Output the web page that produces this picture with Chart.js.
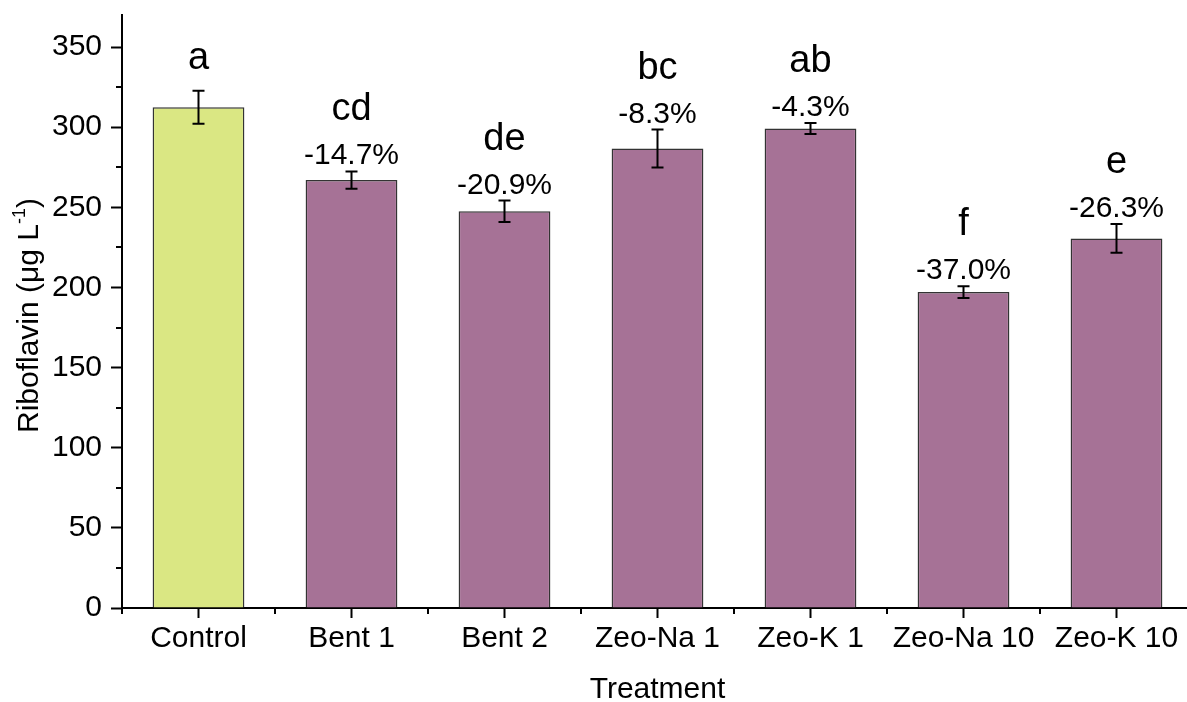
<!DOCTYPE html>
<html>
<head>
<meta charset="utf-8">
<script src="https://cdn.jsdelivr.net/npm/chart.js@4"></script>
<style>
  html, body { margin: 0; padding: 0; overflow: hidden; background: #fff; }
  canvas { display: block; }
</style>
</head>
<body>
<canvas id="riboChart" width="1200" height="708"></canvas>
<script>
// Riboflavin per treatment
const categories = ['Control', 'Bent 1', 'Bent 2', 'Zeo-Na 1', 'Zeo-K 1', 'Zeo-Na 10', 'Zeo-K 10'];
const riboflavin = [312.5, 267, 247.5, 286.7, 299.2, 197.1, 230.6];
const errors = [10.3, 5.4, 6.7, 11.8, 3.4, 3.6, 9.0];
const letters = ['a', 'cd', 'de', 'bc', 'ab', 'f', 'e'];
const changes = ['', '-14.7%', '-20.9%', '-8.3%', '-4.3%', '-37.0%', '-26.3%'];
const yTicks = [0, 50, 100, 150, 200, 250, 300, 350];

const FONT = "'Liberation Sans', Arial, sans-serif";
const barColors = categories.map((c, i) => i === 0 ? '#dae783' : '#a67296');

// minor ticks, error bars, letter / percent labels, y title with superscript
const extras = {
    id: 'extras',
    afterDatasetsDraw(chart) {
        const c = chart.ctx;
        const x = chart.scales.x, y = chart.scales.y;
        const area = chart.chartArea;
        c.save();
        c.strokeStyle = '#000';
        c.lineWidth = 2;
        // y minor ticks
        for (let v = 25; v < 370; v += 50) {
            const py = Math.round(y.getPixelForValue(v));
            c.beginPath();
            c.moveTo(area.left - 6, py);
            c.lineTo(area.left, py);
            c.stroke();
        }
        // x minor ticks at category edges
        for (let i = 0; i <= categories.length; i++) {
            const px = Math.round(x.getPixelForValue(i - 0.5));
            c.beginPath();
            c.moveTo(px, area.bottom);
            c.lineTo(px, area.bottom + 6);
            c.stroke();
        }
        // error bars
        const meta = chart.getDatasetMeta(0);
        meta.data.forEach((bar, i) => {
            const top = y.getPixelForValue(riboflavin[i] + errors[i]);
            const bot = y.getPixelForValue(riboflavin[i] - errors[i]);
            c.beginPath();
            c.moveTo(bar.x, top); c.lineTo(bar.x, bot);
            c.moveTo(bar.x - 6, top); c.lineTo(bar.x + 6, top);
            c.moveTo(bar.x - 6, bot); c.lineTo(bar.x + 6, bot);
            c.stroke();

            c.fillStyle = '#000';
            c.textAlign = 'center';
            c.textBaseline = 'alphabetic';
            let base = top - 7;
            if (changes[i]) {
                c.font = '30px ' + FONT;
                c.fillText(changes[i], bar.x, base);
                base -= 44;
            } else {
                base = top - 22;
            }
            c.font = '38px ' + FONT;
            c.fillText(letters[i], bar.x, base);
        });

        // y axis title
        const main = 'Riboflavin (\u03bcg L', sup = '-1', tail = ')';
        c.font = '30px ' + FONT;
        const w1 = c.measureText(main).width, w3 = c.measureText(tail).width;
        c.font = '18px ' + FONT;
        const w2 = c.measureText(sup).width;
        const total = w1 + w2 + w3;
        c.translate(38, (area.top + area.bottom) / 2 + 4);
        c.rotate(-Math.PI / 2);
        c.textAlign = 'left';
        let tx = -total / 2;
        c.font = '30px ' + FONT;
        c.fillText(main, tx, 0);
        tx += w1;
        c.font = '18px ' + FONT;
        c.fillText(sup, tx, -13);
        tx += w2;
        c.font = '30px ' + FONT;
        c.fillText(tail, tx, 0);
        c.restore();
    }
};

const ctx = document.getElementById('riboChart').getContext('2d');
new Chart(ctx, {
    type: 'bar',
    data: {
        labels: categories,
        datasets: [{
            data: riboflavin,
            backgroundColor: barColors,
            borderColor: '#333',
            borderWidth: 1.5,
            barPercentage: 0.6,
            categoryPercentage: 1.0
        }]
    },
    options: {
        responsive: false,
        animation: false,
        layout: { padding: { top: 15, right: 7, left: 0, bottom: 0 } },
        scales: {
            x: {
                afterFit: s => { s.height = 100; s.paddingLeft = 0; s.paddingRight = 0; },
                grid: { display: true, drawOnChartArea: false, offset: false, color: '#000', tickLength: 10, tickWidth: 2 },
                border: { display: true, color: '#000', width: 2 },
                ticks: { color: '#000', font: { family: FONT, size: 30 }, padding: 3, maxRotation: 0, autoSkip: false },
                title: { display: true, text: 'Treatment', color: '#000', font: { family: FONT, size: 30 }, padding: 0 }
            },
            y: {
                min: 0,
                max: 370,
                afterFit: s => { s.width = 122; s.paddingTop = 0; s.paddingBottom = 0; },
                afterBuildTicks: s => { s.ticks = yTicks.map(v => ({ value: v })); },
                grid: { display: true, drawOnChartArea: false, color: '#000', tickLength: 11, tickWidth: 2 },
                border: { display: true, color: '#000', width: 2 },
                ticks: { color: '#000', font: { family: FONT, size: 30 }, padding: 9 },
                title: { display: false }
            }
        },
        plugins: {
            legend: { display: false },
            tooltip: { enabled: false }
        }
    },
    plugins: [extras]
});
</script>
</body>
</html>
